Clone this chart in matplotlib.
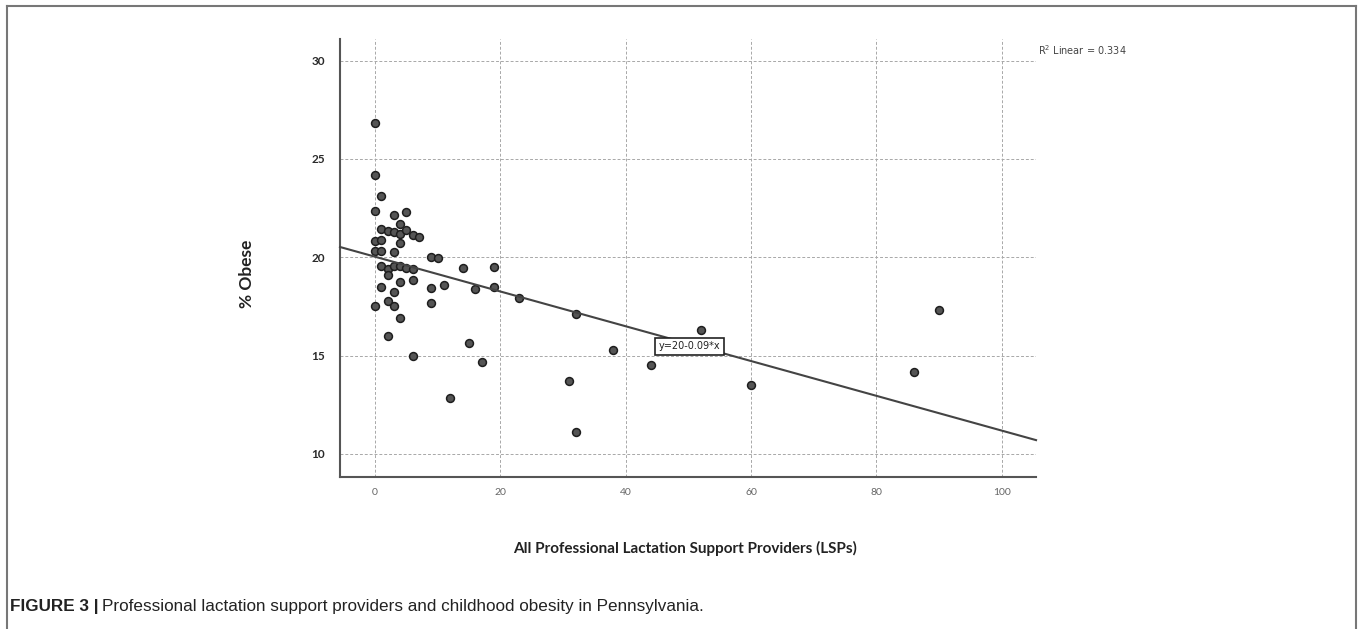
import matplotlib
matplotlib.use("Agg")
import matplotlib.pyplot as plt
from matplotlib.lines import Line2D
import numpy as np

# LSP counts per county and % obese
lsps = [0, 0, 1, 0, 3, 5, 4, 1, 2, 3, 4, 5, 6, 7, 0, 1, 4, 0, 1, 3,
        9, 10, 1, 2, 3, 4, 5, 6, 2, 14, 19, 1, 4, 6, 9, 11, 16, 19, 3, 0,
        2, 3, 9, 4, 2, 15, 23, 32, 52, 38, 6, 17, 12, 31, 32, 44, 60, 86, 90]
obese = [26.85, 24.2, 23.1, 22.35, 22.15, 22.3, 21.7, 21.45, 21.35, 21.3,
         21.2, 21.4, 21.15, 21.05, 20.85, 20.9, 20.75, 20.3, 20.3, 20.25,
         20.0, 19.95, 19.55, 19.4, 19.55, 19.55, 19.45, 19.4, 19.1, 19.45,
         19.5, 18.5, 18.75, 18.85, 18.45, 18.57, 18.37, 18.47, 18.25, 17.5,
         17.8, 17.5, 17.7, 16.9, 16.0, 15.65, 17.93, 17.1, 16.32, 15.3,
         14.97, 14.7, 12.85, 13.72, 11.11, 14.5, 13.5, 14.15, 17.3]

x_ticks = [0, 20, 40, 60, 80, 100]
y_ticks = [10, 15, 20, 25, 30]
fit_intercept = 20.03
fit_slope = -0.0884
eq_label = "y=20-0.09*x"
r2_label = "R$^2$ Linear = 0.334"

fig = plt.figure(figsize=(13.6, 6.29), dpi=100)
ax = fig.add_axes([0.25, 0.2417, 0.5118, 0.6963])

ax.set_xlim(-5.59, 105.5)
ax.set_ylim(8.83, 31.1)
ax.set_xticks(x_ticks)
ax.set_yticks(y_ticks)
ax.grid(True, color="#a8a8a8", linestyle=(0, (3, 2)), linewidth=0.7)
ax.set_axisbelow(True)

for s in ["top", "right"]:
    ax.spines[s].set_visible(False)
for s in ["left", "bottom"]:
    ax.spines[s].set_color("#555555")
    ax.spines[s].set_linewidth(1.5)

ax.tick_params(axis="both", length=0)
ax.tick_params(axis="y", pad=11, labelsize=8.5, labelcolor="#2a2a2a")
ax.tick_params(axis="x", pad=8, labelsize=7.5, labelcolor="#666666")
for t in ax.get_yticklabels():
    t.set_fontweight("bold")
    t.set_family("Lato")
for t in ax.get_xticklabels():
    t.set_family("Lato")

ax.scatter(lsps, obese, s=32, facecolor="#555555", edgecolor="#1e1e1e",
           linewidth=1.1, zorder=3)

xs = np.array(ax.get_xlim())
ax.plot(xs, fit_intercept + fit_slope * xs, color="#444444", lw=1.5, zorder=4,
        clip_on=False)

ax.text(50.2, 15.48, eq_label, fontsize=7, ha="center", va="center",
        family="DejaVu Sans", color="#222222", zorder=5,
        bbox=dict(boxstyle="square,pad=0.35", facecolor="white",
                  edgecolor="#222222", linewidth=1.2))

fig.text(1038 / 1360, 1 - 50 / 629, r2_label, fontsize=7, color="#444444",
         ha="left", va="center")

fig.text(246.7 / 1360, 1 - 274 / 629, "% Obese", rotation=90, fontsize=12.5,
         fontweight="bold", family="Lato", ha="center", va="center",
         color="#222222")
fig.text(685 / 1360, 1 - 548 / 629,
         "All Professional Lactation Support Providers (LSPs)",
         fontsize=11, fontweight="bold", family="Lato", ha="center",
         va="center", color="#222222")

cap_font = ["Liberation Sans", "DejaVu Sans"]
t1 = fig.text(10 / 1360, 1 - 607 / 629, "FIGURE 3 |", fontsize=12.3,
              fontweight="bold", family=cap_font, ha="left", va="center",
              color="#222222")
fig.canvas.draw()
bb = t1.get_window_extent()
fig.text((bb.x1 + 4) / 1360, 1 - 607 / 629,
         "Professional lactation support providers and childhood obesity in Pennsylvania.",
         fontsize=12.3, family=cap_font, ha="left", va="center",
         color="#222222")

# outer frame (open at the bottom)
fx0, fx1, fy1 = 7 / 1360, 1356 / 1360, 1 - 6 / 629
for xd, yd in [([fx0, fx0], [0, fy1]), ([fx0, fx1], [fy1, fy1]),
               ([fx1, fx1], [fy1, 0])]:
    fig.add_artist(Line2D(xd, yd, color="#777777", lw=1.5,
                          transform=fig.transFigure))

fig.savefig("out.png", dpi=100)
